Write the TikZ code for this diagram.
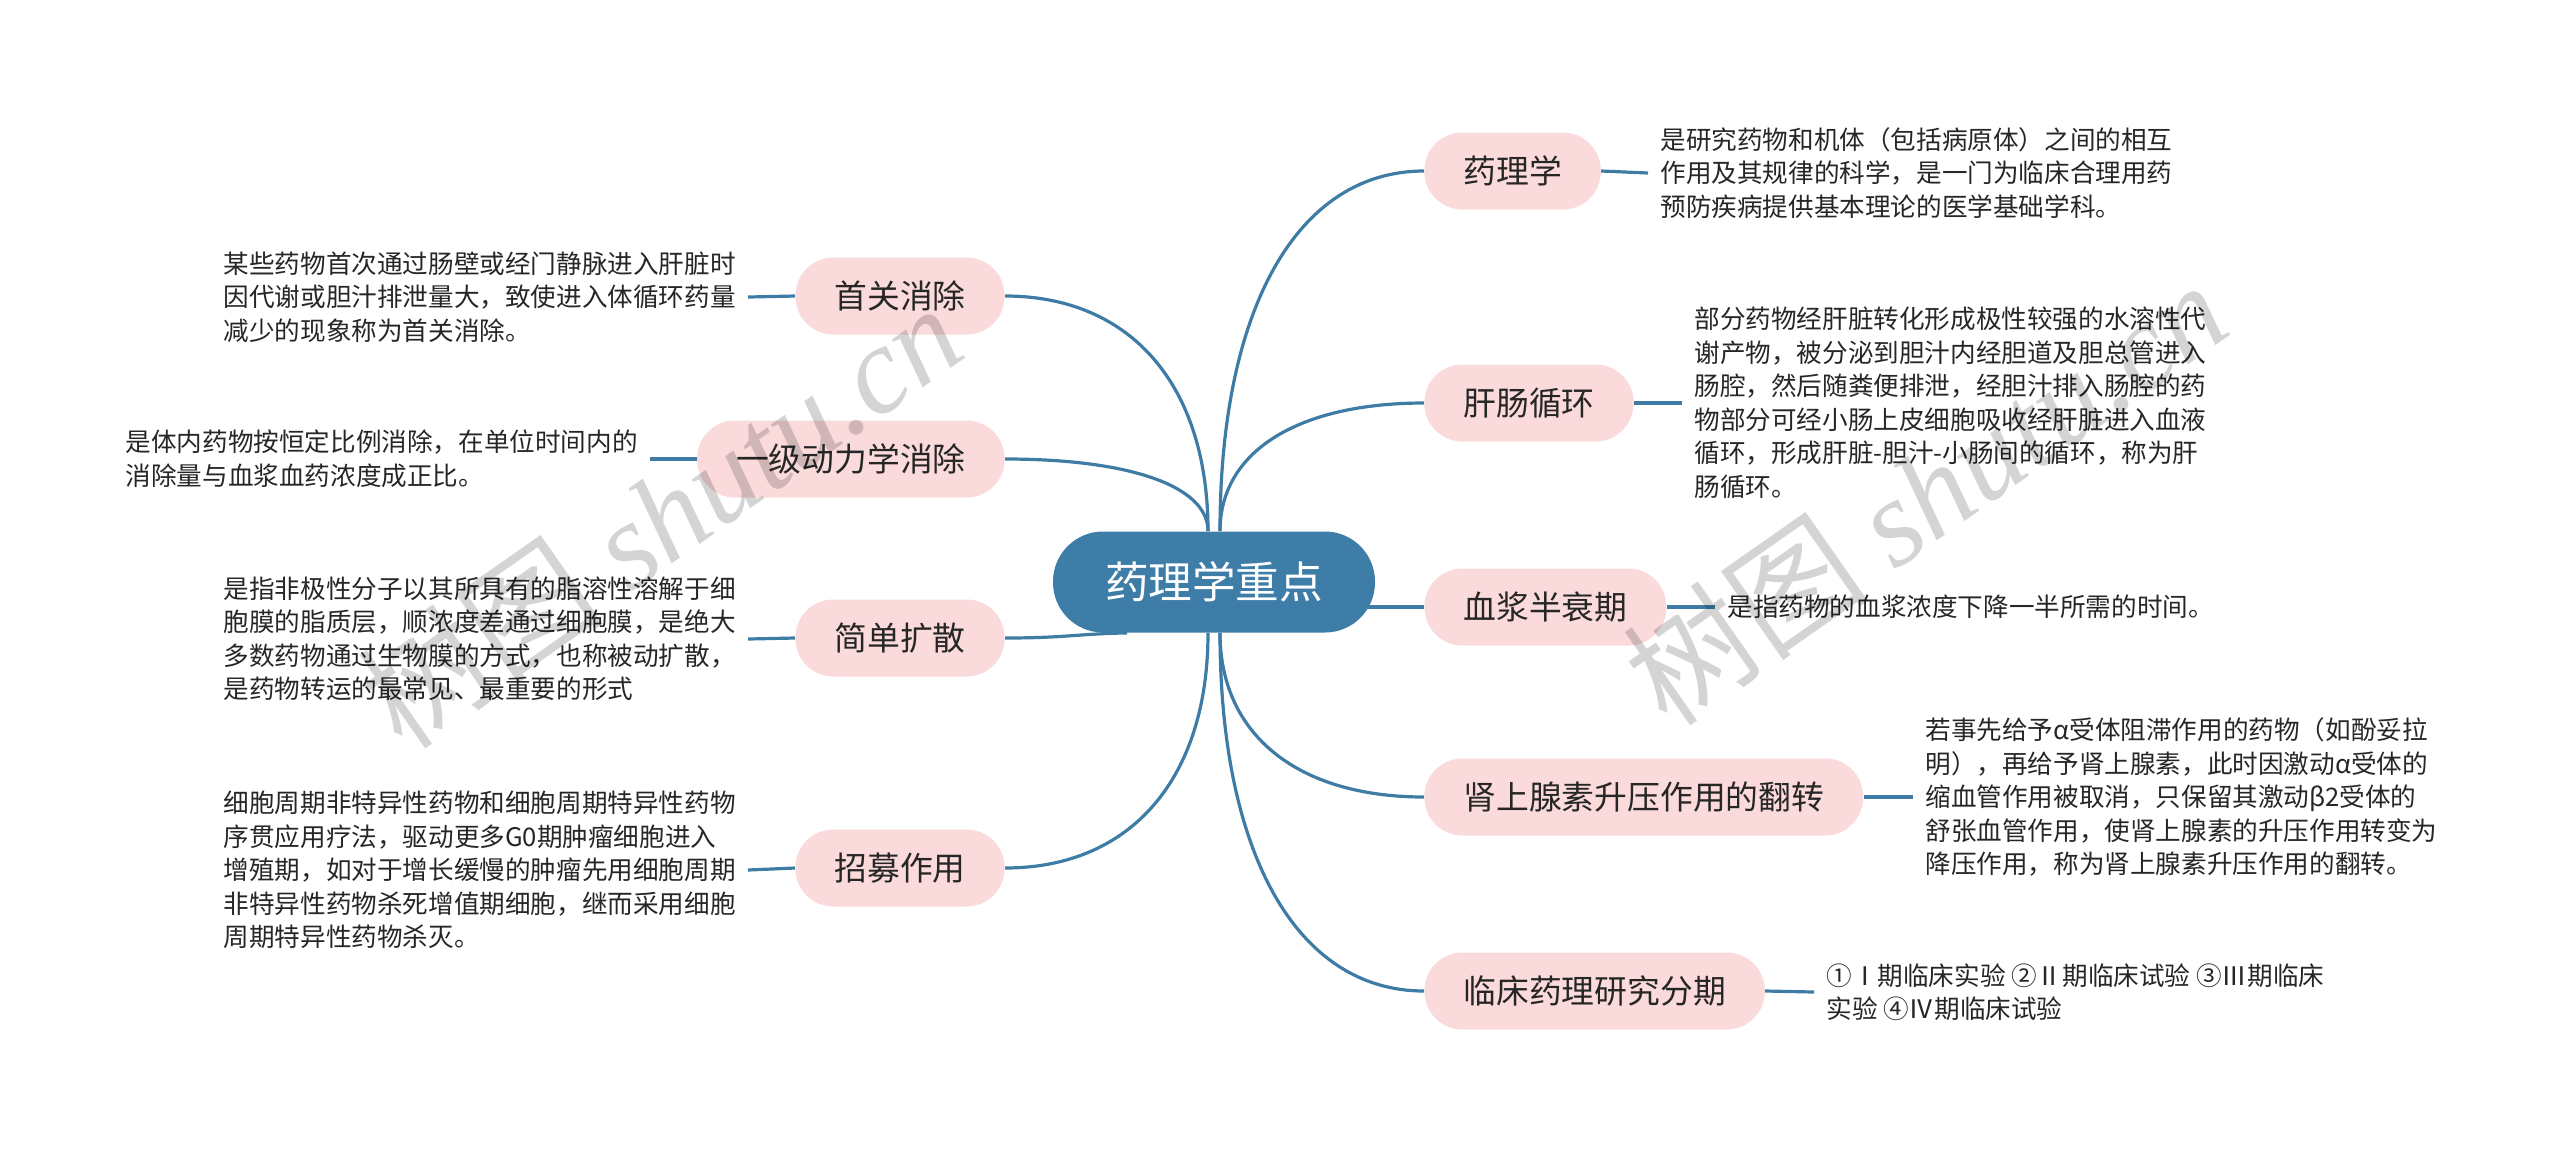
\documentclass[tikz,border=0pt]{standalone}
\usepackage{fontspec}
\setmainfont{Noto Sans CJK SC}
\newfontfamily\wmlatin{Liberation Serif}
\usetikzlibrary{calc,backgrounds}
\definecolor{linec}{RGB}{62,124,166}
\definecolor{rootc}{RGB}{62,125,167}
\definecolor{pillc}{RGB}{250,218,218}
\definecolor{txtc}{RGB}{38,38,38}
\newcommand\mmcurve[2]{%
  \draw[link] (#1) .. controls ($(#1)!0.62!(#1|-#2)$) and ($(#2)!0.62!(#2-|#1)$) .. (#2);}
\begin{document}
\begin{tikzpicture}[x=0.5pt,y=-0.5pt,
  link/.style={draw=linec,line width=1.6pt},
  pill/.style={fill=pillc,rounded corners=19pt,minimum height=38.5pt,inner xsep=19.5pt,inner ysep=0pt,text=txtc,font=\fontsize{16.4}{20}\selectfont},
  rootbox/.style={fill=rootc,rounded corners=25pt,minimum height=50.5pt,minimum width=161pt,inner sep=0pt,text=white,font=\fontsize{21.8}{26}\selectfont},
  desc/.style={align=left,text=txtc,inner xsep=6pt,inner ysep=0pt,font=\fontsize{12.8}{16.75}\selectfont},
  wm/.style={text=black,text opacity=0.17,font=\fontsize{62}{62}\selectfont,inner sep=0pt}]
\useasboundingbox (0,0) rectangle (2560,1148);

% central node
\node[rootbox] (root) at (1214,582) {药理学重点};

% right pills
\node[pill,anchor=west] (p1) at (1424,171) {药理学};
\node[pill,anchor=west] (p2) at (1424,403) {肝肠循环};
\node[pill,anchor=west] (p3) at (1424,607) {血浆半衰期};
\node[pill,anchor=west] (p4) at (1424,797) {肾上腺素升压作用的翻转};
\node[pill,anchor=west] (p5) at (1424,991) {临床药理研究分期};
% left pills
\node[pill,anchor=east] (p6) at (1005,296) {首关消除};
\node[pill,anchor=east] (p7) at (1005,459) {一级动力学消除};
\node[pill,anchor=east] (p8) at (1005,638) {简单扩散};
\node[pill,anchor=east] (p9) at (1005,868) {招募作用};

% descriptions
\node[desc,anchor=west] (d1) at (1648,173) {是研究药物和机体（包括病原体）之间的相互\\作用及其规律的科学，是一门为临床合理用药\\预防疾病提供基本理论的医学基础学科。};
\node[desc,anchor=west] (d2) at (1682,403) {部分药物经肝脏转化形成极性较强的水溶性代\\谢产物，被分泌到胆汁内经胆道及胆总管进入\\肠腔，然后随粪便排泄，经胆汁排入肠腔的药\\物部分可经小肠上皮细胞吸收经肝脏进入血液\\循环，形成肝脏-胆汁-小肠间的循环，称为肝\\肠循环。};
\node[desc,anchor=west] (d3) at (1715,607) {是指药物的血浆浓度下降一半所需的时间。};
\node[desc,anchor=west] (d4) at (1913,797) {若事先给予α受体阻滞作用的药物（如酚妥拉\\明），再给予肾上腺素，此时因激动α受体的\\缩血管作用被取消，只保留其激动β2受体的\\舒张血管作用，使肾上腺素的升压作用转变为\\降压作用，称为肾上腺素升压作用的翻转。};
\node[desc,anchor=west] (d5) at (1814,992) {①Ⅰ期临床实验 ②Ⅱ期临床试验 ③Ⅲ期临床\\实验 ④Ⅳ期临床试验};
\node[desc,anchor=east] (d6) at (748,297) {某些药物首次通过肠壁或经门静脉进入肝脏时\\因代谢或胆汁排泄量大，致使进入体循环药量\\减少的现象称为首关消除。};
\node[desc,anchor=east] (d7) at (650,459) {是体内药物按恒定比例消除，在单位时间内的\\消除量与血浆血药浓度成正比。};
\node[desc,anchor=east] (d8) at (748,639) {是指非极性分子以其所具有的脂溶性溶解于细\\胞膜的脂质层，顺浓度差通过细胞膜，是绝大\\多数药物通过生物膜的方式，也称被动扩散，\\是药物转运的最常见、最重要的形式};
\node[desc,anchor=east] (d9) at (748,870) {细胞周期非特异性药物和细胞周期特异性药物\\序贯应用疗法，驱动更多G0期肿瘤细胞进入\\增殖期，如对于增长缓慢的肿瘤先用细胞周期\\非特异性药物杀死增值期细胞，继而采用细胞\\周期特异性药物杀灭。};

\coordinate (rtr) at ($(root.north)+(6,0)$);
\coordinate (rtl) at ($(root.north)+(-6,0)$);
\coordinate (rbr) at ($(root.south)+(6,0)$);
\coordinate (rbl) at ($(root.south)+(-6,0)$);
\coordinate (rsl) at ($(root.south)+(-87,0)$);

\begin{scope}[on background layer]
  \mmcurve{rtr}{p1.west}
  \mmcurve{rtr}{p2.west}
  \mmcurve{rbr}{p4.west}
  \mmcurve{rbr}{p5.west}
  \mmcurve{rtl}{p6.east}
  \mmcurve{rtl}{p7.east}
  \mmcurve{rbl}{p9.east}
  \draw[link] (p3.west) -- (p3.west -| root.center);
  \draw[link] (p8.east) .. controls ($(p8.east)+(60,0)$) and ($(rsl)+(-50,1)$) .. (rsl);
  % short leads
  \draw[link] (p1.east) -- (d1.west);
  \draw[link] (p2.east) -- (d2.west);
  \draw[link] (p3.east) -- (d3.west);
  \draw[link] (p4.east) -- (d4.west);
  \draw[link] (p5.east) -- (d5.west);
  \draw[link] (p6.west) -- (d6.east);
  \draw[link] (p7.west) -- (d7.east);
  \draw[link] (p8.west) -- (d8.east);
  \draw[link] (p9.west) -- (d9.east);
\end{scope}

% watermarks
\node[wm,rotate=35] (wm1) at (660,515) {树图 {\wmlatin\itshape shutu.cn}};
\node[wm,rotate=35] (wm2) at (1925,492) {树图 {\wmlatin\itshape shutu.cn}};
\end{tikzpicture}
\end{document}
